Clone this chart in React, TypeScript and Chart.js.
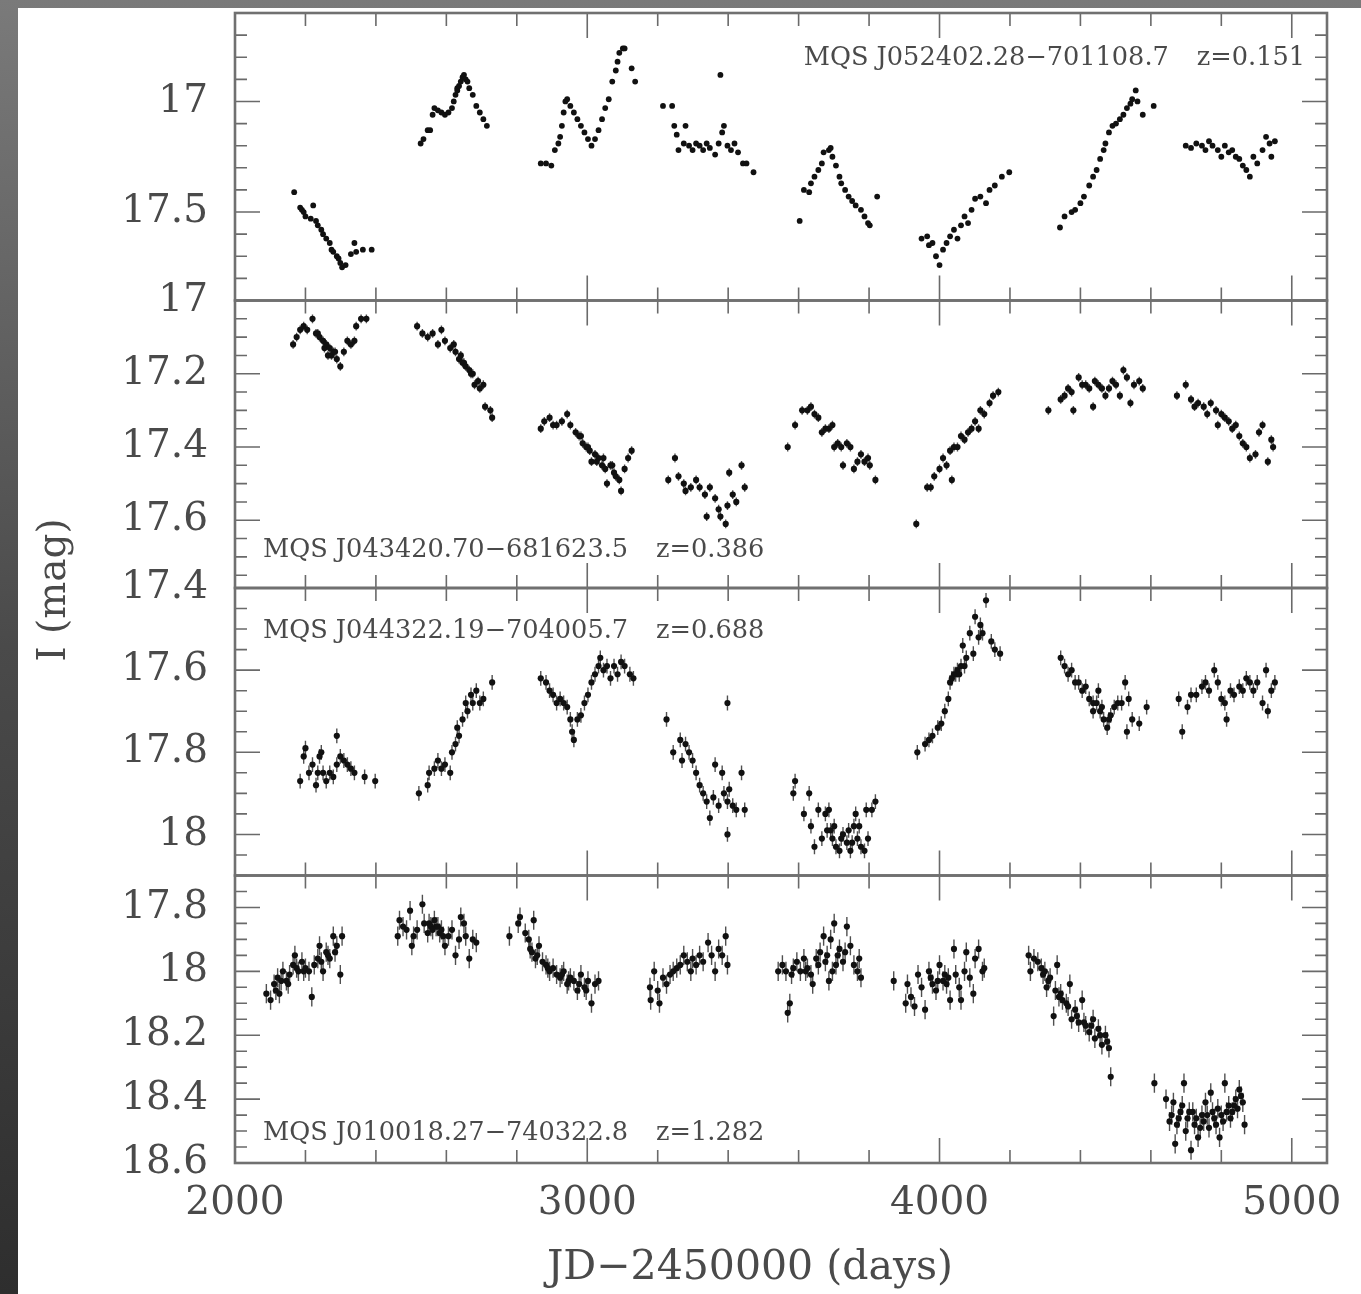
import React, { useEffect, useRef } from "react";
import { Chart, registerables } from "chart.js";

Chart.register(...registerables);

// ---------- axes / labels ----------
const X_MIN = 2000;
const X_MAX = 5100;
const X_LABEL_TICKS = [2000, 3000, 4000, 5000];
const X_MINOR_STEP = 200;
const X_MAJOR_STEP = 1000;
const X_TITLE = "JD\u22122450000 (days)";
const Y_TITLE = "I (mag)";

const PANEL_IDS = ["y1", "y2", "y3", "y4"];
const PANEL_NAMES = [
  "MQS J052402.28\u2212701108.7",
  "MQS J043420.70\u2212681623.5",
  "MQS J044322.19\u2212704005.7",
  "MQS J010018.27\u2212740322.8",
];
const PANEL_Z = ["z=0.151", "z=0.386", "z=0.688", "z=1.282"];
const PANEL_MIN = [16.6, 17.0, 17.4, 17.7];
const PANEL_MAX = [17.9, 17.785, 18.1, 18.6];
const PANEL_LABEL_TICKS = [
  [17, 17.5],
  [17, 17.2, 17.4, 17.6],
  [17.4, 17.6, 17.8, 18],
  [17.8, 18, 18.2, 18.4, 18.6],
];
const PANEL_MINOR = [0.1, 0.05, 0.05, 0.05];
const PANEL_MAJOR = [0.5, 0.2, 0.2, 0.2];
const PANEL_ERR = [0.004, 0.012, 0.018, 0.03];

// ---------- data: [JD-2450000, I mag] ----------
const P1: number[][] = [
  [2168, 17.41], [2185, 17.48], [2190, 17.49], [2195, 17.5], [2200, 17.52], [2222, 17.47], [2215, 17.53], [2230, 17.54],
  [2235, 17.56], [2245, 17.58], [2250, 17.6], [2259, 17.62], [2269, 17.64], [2274, 17.67], [2279, 17.68], [2289, 17.7],
  [2294, 17.71], [2299, 17.73], [2304, 17.75], [2314, 17.74], [2329, 17.69], [2339, 17.64], [2344, 17.68], [2363, 17.67], [2388, 17.67],
  [2527, 17.19], [2535, 17.17], [2547, 17.13], [2554, 17.13], [2561, 17.06], [2566, 17.03], [2576, 17.04], [2586, 17.05],
  [2596, 17.06], [2606, 17.05], [2616, 17.03], [2621, 17.0], [2626, 16.97], [2631, 16.95], [2631, 16.94], [2636, 16.93],
  [2641, 16.91], [2646, 16.89], [2650, 16.88], [2655, 16.9], [2660, 16.91], [2665, 16.94], [2675, 16.97], [2685, 17.02],
  [2695, 17.05], [2705, 17.08], [2715, 17.11],
  [2868, 17.28], [2883, 17.28], [2898, 17.29], [2908, 17.22], [2918, 17.19], [2923, 17.16], [2928, 17.11], [2933, 17.05],
  [2938, 17.0], [2943, 16.99], [2952, 17.02], [2962, 17.05], [2972, 17.08], [2982, 17.11], [2992, 17.14], [3002, 17.17],
  [3012, 17.2], [3022, 17.17], [3032, 17.13], [3042, 17.08], [3051, 17.03], [3061, 16.99], [3071, 16.91], [3081, 16.86],
  [3086, 16.82], [3091, 16.78], [3101, 16.76], [3106, 16.76], [3126, 16.85], [3136, 16.91],
  [3215, 17.02], [3241, 17.02], [3247, 17.11], [3279, 17.11], [3254, 17.15], [3378, 16.88], [3259, 17.22], [3274, 17.19],
  [3289, 17.2], [3299, 17.22], [3309, 17.19], [3319, 17.2], [3329, 17.22], [3339, 17.19], [3348, 17.21], [3363, 17.24],
  [3373, 17.19], [3383, 17.14], [3388, 17.11], [3398, 17.2], [3408, 17.22], [3418, 17.19], [3428, 17.23], [3442, 17.28],
  [3452, 17.28], [3472, 17.32],
  [3603, 17.54], [3615, 17.4], [3630, 17.41], [3635, 17.37], [3645, 17.34], [3656, 17.31], [3666, 17.28], [3671, 17.23],
  [3686, 17.22], [3691, 17.21], [3696, 17.25], [3706, 17.29], [3716, 17.34], [3721, 17.37], [3732, 17.4], [3742, 17.43],
  [3752, 17.45], [3762, 17.47], [3777, 17.49], [3787, 17.52], [3797, 17.55], [3802, 17.56], [3823, 17.43],
  [3949, 17.62], [3965, 17.61], [3970, 17.65], [3980, 17.64], [3990, 17.7], [4000, 17.74], [4010, 17.67], [4020, 17.64],
  [4030, 17.61], [4041, 17.58], [4051, 17.62], [4061, 17.56], [4071, 17.52], [4081, 17.55], [4091, 17.49], [4101, 17.44],
  [4116, 17.43], [4132, 17.46], [4142, 17.4], [4157, 17.38], [4177, 17.34], [4198, 17.32],
  [4342, 17.57], [4355, 17.52], [4375, 17.5], [4385, 17.49], [4400, 17.46], [4410, 17.43], [4425, 17.38], [4436, 17.34],
  [4446, 17.31], [4456, 17.26], [4466, 17.22], [4471, 17.19], [4481, 17.14], [4491, 17.11], [4501, 17.1], [4512, 17.08],
  [4522, 17.06], [4532, 17.03], [4542, 17.01], [4547, 16.99], [4557, 16.95], [4562, 17.0], [4577, 17.06], [4608, 17.02],
  [4699, 17.2], [4714, 17.21], [4729, 17.19], [4745, 17.2], [4755, 17.22], [4765, 17.18], [4775, 17.2], [4790, 17.22],
  [4800, 17.25], [4810, 17.2], [4821, 17.23], [4831, 17.22], [4841, 17.25], [4851, 17.26], [4861, 17.29], [4871, 17.31],
  [4881, 17.34], [4891, 17.25], [4902, 17.28], [4917, 17.22], [4927, 17.16], [4937, 17.19], [4942, 17.25], [4952, 17.18],
];

const P2: number[][] = [
  [2165, 17.12], [2175, 17.1], [2185, 17.08], [2195, 17.07], [2205, 17.08], [2220, 17.05], [2230, 17.09], [2235, 17.09],
  [2240, 17.1], [2250, 17.11], [2254, 17.13], [2259, 17.12], [2264, 17.15], [2269, 17.13], [2274, 17.15], [2279, 17.14],
  [2284, 17.14], [2289, 17.16], [2299, 17.18], [2309, 17.14], [2319, 17.11], [2329, 17.12], [2339, 17.11], [2344, 17.07],
  [2358, 17.05], [2373, 17.05],
  [2517, 17.07], [2532, 17.09], [2547, 17.1], [2561, 17.09], [2576, 17.12], [2586, 17.08], [2596, 17.11], [2611, 17.13],
  [2621, 17.12], [2626, 17.14], [2636, 17.16], [2641, 17.15], [2646, 17.17], [2650, 17.17], [2655, 17.18], [2665, 17.19],
  [2670, 17.2], [2675, 17.2], [2680, 17.23], [2690, 17.22], [2695, 17.24], [2705, 17.23], [2710, 17.29], [2725, 17.3], [2730, 17.32],
  [2868, 17.35], [2878, 17.33], [2893, 17.32], [2903, 17.34], [2913, 17.34], [2928, 17.33], [2943, 17.31], [2952, 17.34],
  [2967, 17.36], [2977, 17.37], [2982, 17.37], [2987, 17.39], [2997, 17.4], [3002, 17.4], [3007, 17.41], [3012, 17.44],
  [3022, 17.42], [3027, 17.44], [3032, 17.43], [3042, 17.45], [3046, 17.43], [3051, 17.46], [3056, 17.5], [3066, 17.45],
  [3071, 17.45], [3076, 17.47], [3081, 17.48], [3091, 17.49], [3096, 17.52], [3106, 17.46], [3116, 17.43], [3126, 17.41],
  [3230, 17.49], [3249, 17.43], [3259, 17.48], [3274, 17.5], [3279, 17.52], [3294, 17.51], [3309, 17.49], [3319, 17.51],
  [3334, 17.53], [3339, 17.59], [3348, 17.51], [3363, 17.54], [3373, 17.57], [3378, 17.59], [3393, 17.61], [3398, 17.56],
  [3403, 17.47], [3413, 17.53], [3423, 17.55], [3438, 17.45], [3447, 17.51],
  [3569, 17.4], [3590, 17.34], [3610, 17.3], [3625, 17.3], [3635, 17.29], [3645, 17.31], [3656, 17.32], [3666, 17.36],
  [3676, 17.35], [3686, 17.35], [3696, 17.34], [3701, 17.4], [3711, 17.39], [3721, 17.4], [3726, 17.45], [3737, 17.39],
  [3747, 17.4], [3757, 17.46], [3767, 17.44], [3777, 17.42], [3787, 17.44], [3797, 17.43], [3802, 17.45], [3818, 17.49],
  [3934, 17.61],
  [3965, 17.51], [3975, 17.51], [3985, 17.48], [4000, 17.46], [4010, 17.43], [4020, 17.45], [4030, 17.41], [4035, 17.49],
  [4041, 17.4], [4051, 17.4], [4061, 17.37], [4071, 17.38], [4081, 17.36], [4091, 17.35], [4101, 17.33], [4111, 17.35],
  [4116, 17.3], [4127, 17.31], [4142, 17.28], [4152, 17.26], [4167, 17.25],
  [4309, 17.3], [4344, 17.27], [4355, 17.26], [4365, 17.24], [4375, 17.25], [4380, 17.3], [4395, 17.21], [4405, 17.23],
  [4415, 17.23], [4425, 17.24], [4436, 17.29], [4441, 17.22], [4451, 17.23], [4461, 17.24], [4471, 17.26], [4481, 17.24],
  [4491, 17.22], [4501, 17.23], [4512, 17.26], [4522, 17.19], [4532, 17.21], [4542, 17.28], [4552, 17.23], [4567, 17.22], [4577, 17.24],
  [4674, 17.26], [4699, 17.23], [4714, 17.27], [4724, 17.29], [4734, 17.28], [4750, 17.29], [4760, 17.31], [4770, 17.28],
  [4785, 17.3], [4790, 17.34], [4800, 17.31], [4810, 17.32], [4821, 17.33], [4831, 17.35], [4841, 17.34], [4851, 17.37],
  [4861, 17.39], [4871, 17.4], [4881, 17.43], [4897, 17.42], [4907, 17.36], [4917, 17.34], [4932, 17.44], [4942, 17.38], [4947, 17.4],
];

const P3: number[][] = [
  [2185, 17.87], [2195, 17.81], [2200, 17.79], [2210, 17.85], [2220, 17.83], [2230, 17.88], [2235, 17.85], [2240, 17.81],
  [2245, 17.8], [2250, 17.85], [2259, 17.87], [2269, 17.85], [2279, 17.86], [2289, 17.76], [2289, 17.83], [2299, 17.81],
  [2309, 17.82], [2319, 17.83], [2329, 17.84], [2339, 17.85], [2368, 17.86], [2398, 17.87],
  [2522, 17.9], [2547, 17.88], [2551, 17.85], [2566, 17.84], [2576, 17.82], [2586, 17.84], [2596, 17.83], [2611, 17.85],
  [2616, 17.8], [2626, 17.78], [2631, 17.74], [2636, 17.76], [2646, 17.72], [2655, 17.68], [2660, 17.7], [2670, 17.66],
  [2675, 17.68], [2685, 17.65], [2695, 17.68], [2705, 17.67], [2730, 17.63],
  [2868, 17.62], [2883, 17.63], [2893, 17.65], [2903, 17.66], [2913, 17.68], [2923, 17.67], [2933, 17.68], [2943, 17.69],
  [2952, 17.72], [2957, 17.75], [2962, 17.77], [2972, 17.72], [2982, 17.71], [2992, 17.68], [3002, 17.66], [3012, 17.63],
  [3022, 17.61], [3032, 17.59], [3037, 17.57], [3046, 17.6], [3056, 17.59], [3066, 17.62], [3076, 17.59], [3086, 17.61],
  [3096, 17.58], [3106, 17.59], [3121, 17.61], [3131, 17.62],
  [3225, 17.72], [3244, 17.8], [3264, 17.77], [3269, 17.82], [3279, 17.78], [3289, 17.8], [3299, 17.82], [3309, 17.85],
  [3319, 17.88], [3329, 17.9], [3339, 17.92], [3348, 17.96], [3358, 17.91], [3363, 17.83], [3373, 17.93], [3383, 17.85],
  [3388, 17.9], [3398, 17.68], [3398, 17.92], [3403, 17.89], [3398, 18.0], [3413, 17.93], [3423, 17.94], [3438, 17.85], [3447, 17.94],
  [3585, 17.9], [3590, 17.87], [3615, 17.95], [3630, 17.9], [3635, 17.98], [3645, 18.03], [3656, 17.94], [3666, 18.01],
  [3676, 17.95], [3681, 17.99], [3686, 17.94], [3691, 17.99], [3696, 18.01], [3701, 17.98], [3706, 18.03], [3716, 18.04],
  [3721, 18.01], [3726, 18.0], [3737, 18.02], [3742, 17.99], [3747, 18.04], [3752, 18.02], [3757, 17.98], [3762, 17.95],
  [3767, 18.01], [3772, 17.98], [3777, 18.03], [3787, 18.04], [3792, 17.94], [3797, 18.01], [3808, 17.94], [3818, 17.92],
  [3937, 17.8], [3959, 17.78], [3970, 17.77], [3980, 17.76], [3995, 17.74], [4005, 17.73], [4015, 17.7], [4025, 17.67],
  [4030, 17.63], [4035, 17.62], [4041, 17.61], [4046, 17.61], [4051, 17.6], [4056, 17.61], [4061, 17.59], [4066, 17.54],
  [4071, 17.59], [4076, 17.57], [4086, 17.51], [4096, 17.56], [4101, 17.47], [4111, 17.52], [4116, 17.49], [4122, 17.51],
  [4132, 17.43], [4147, 17.53], [4157, 17.55], [4172, 17.56],
  [4344, 17.57], [4355, 17.59], [4365, 17.61], [4375, 17.6], [4385, 17.63], [4395, 17.63], [4405, 17.65], [4415, 17.64],
  [4425, 17.67], [4436, 17.68], [4436, 17.7], [4446, 17.68], [4451, 17.65], [4456, 17.7], [4461, 17.69], [4466, 17.72],
  [4476, 17.74], [4481, 17.72], [4486, 17.71], [4496, 17.69], [4506, 17.68], [4517, 17.68], [4527, 17.63], [4532, 17.75],
  [4537, 17.67], [4547, 17.72], [4567, 17.73], [4588, 17.69],
  [4679, 17.67], [4689, 17.75], [4704, 17.69], [4714, 17.66], [4729, 17.66], [4745, 17.64], [4755, 17.63], [4765, 17.65],
  [4780, 17.6], [4790, 17.63], [4800, 17.67], [4810, 17.68], [4815, 17.72], [4826, 17.65], [4836, 17.66], [4851, 17.64],
  [4861, 17.65], [4871, 17.62], [4881, 17.63], [4891, 17.65], [4902, 17.63], [4917, 17.68], [4927, 17.6], [4932, 17.7],
  [4942, 17.65], [4952, 17.63],
];

const P4: number[][] = [
  [2089, 18.07], [2101, 18.09], [2111, 18.04], [2116, 18.06], [2121, 18.02], [2126, 18.07], [2131, 18.03], [2136, 18.0],
  [2146, 18.03], [2151, 18.04], [2155, 18.01], [2165, 17.98], [2170, 17.95], [2175, 17.99], [2180, 18.0], [2190, 17.97],
  [2195, 18.0], [2200, 17.99], [2210, 18.0], [2218, 18.08], [2225, 17.98], [2235, 17.96], [2240, 17.92], [2245, 17.97],
  [2250, 18.0], [2259, 17.94], [2264, 17.95], [2269, 17.96], [2279, 17.89], [2284, 17.94], [2289, 17.92], [2299, 18.01], [2304, 17.89],
  [2462, 17.89], [2467, 17.84], [2477, 17.86], [2487, 17.87], [2497, 17.81], [2502, 17.92], [2507, 17.89], [2517, 17.87],
  [2532, 17.79], [2537, 17.85], [2547, 17.88], [2551, 17.85], [2556, 17.86], [2561, 17.87], [2566, 17.84], [2571, 17.86],
  [2576, 17.86], [2581, 17.88], [2586, 17.87], [2591, 17.89], [2596, 17.92], [2606, 17.89], [2616, 17.87], [2626, 17.95],
  [2636, 17.9], [2641, 17.83], [2650, 17.85], [2655, 17.89], [2665, 17.96], [2675, 17.9], [2685, 17.91],
  [2779, 17.89], [2804, 17.85], [2809, 17.83], [2824, 17.88], [2834, 17.9], [2838, 17.93], [2843, 17.94], [2848, 17.84],
  [2853, 17.96], [2858, 17.95], [2863, 17.92], [2873, 17.97], [2883, 17.98], [2888, 17.99], [2893, 18.0], [2903, 17.99],
  [2913, 18.01], [2923, 18.02], [2928, 18.01], [2933, 18.0], [2943, 18.04], [2947, 18.03], [2952, 18.02], [2962, 18.03],
  [2972, 18.06], [2977, 18.04], [2982, 18.01], [2992, 18.05], [2997, 18.06], [3002, 18.03], [3012, 18.1], [3022, 18.04], [3032, 18.03],
  [3178, 18.05], [3180, 18.09], [3190, 18.0], [3200, 18.06], [3205, 18.1], [3215, 18.02], [3225, 18.04], [3235, 18.01],
  [3244, 18.0], [3254, 17.99], [3264, 17.98], [3274, 17.95], [3284, 17.97], [3294, 18.0], [3299, 17.96], [3309, 17.98],
  [3319, 17.95], [3329, 17.97], [3343, 17.91], [3353, 17.95], [3363, 18.0], [3373, 17.93], [3383, 17.95], [3393, 17.89], [3398, 17.98],
  [3542, 18.0], [3554, 17.98], [3564, 18.0], [3569, 18.13], [3575, 18.1], [3580, 18.01], [3585, 17.99], [3595, 17.97],
  [3605, 18.0], [3615, 17.96], [3620, 18.0], [3625, 17.99], [3635, 18.01], [3640, 18.04], [3650, 17.96], [3656, 17.98],
  [3661, 17.94], [3671, 17.89], [3676, 17.97], [3681, 17.95], [3686, 18.03], [3691, 17.9], [3696, 18.0], [3701, 17.85],
  [3706, 17.98], [3711, 17.95], [3716, 17.93], [3726, 17.97], [3732, 17.94], [3737, 17.86], [3747, 17.92], [3757, 17.98],
  [3767, 18.0], [3772, 17.96], [3777, 18.02],
  [3870, 18.03], [3904, 18.1], [3909, 18.04], [3919, 18.08], [3929, 18.11], [3939, 18.01], [3949, 18.05], [3959, 18.12],
  [3970, 18.0], [3975, 18.02], [3980, 18.04], [3990, 18.06], [3995, 18.03], [4000, 17.98], [4010, 18.03], [4015, 18.01],
  [4020, 18.04], [4025, 18.02], [4030, 18.09], [4041, 17.93], [4046, 18.01], [4056, 18.05], [4061, 18.09], [4071, 18.0],
  [4076, 17.94], [4086, 18.02], [4096, 18.07], [4101, 17.96], [4111, 17.93], [4122, 18.0], [4127, 17.99],
  [4253, 17.95], [4258, 18.0], [4268, 17.96], [4279, 17.97], [4289, 17.99], [4294, 18.01], [4299, 18.0], [4304, 18.05],
  [4309, 18.03], [4314, 18.02], [4324, 18.14], [4329, 18.06], [4334, 17.98], [4339, 18.08], [4344, 18.07], [4349, 18.09],
  [4360, 18.1], [4365, 18.11], [4370, 18.04], [4375, 18.15], [4385, 18.12], [4390, 18.14], [4395, 18.16], [4405, 18.09],
  [4410, 18.16], [4415, 18.17], [4425, 18.19], [4431, 18.17], [4436, 18.15], [4441, 18.21], [4451, 18.18], [4456, 18.2],
  [4461, 18.23], [4471, 18.2], [4476, 18.22], [4481, 18.24], [4486, 18.33],
  [4610, 18.35], [4643, 18.4], [4653, 18.47], [4659, 18.45], [4664, 18.41], [4669, 18.54], [4674, 18.48], [4679, 18.46],
  [4684, 18.44], [4689, 18.42], [4694, 18.35], [4699, 18.5], [4704, 18.46], [4709, 18.44], [4714, 18.56], [4719, 18.44],
  [4724, 18.48], [4729, 18.46], [4734, 18.52], [4740, 18.49], [4745, 18.45], [4750, 18.47], [4755, 18.41], [4760, 18.45],
  [4765, 18.49], [4770, 18.38], [4775, 18.44], [4780, 18.46], [4785, 18.48], [4790, 18.43], [4795, 18.52], [4800, 18.45],
  [4805, 18.47], [4810, 18.35], [4815, 18.44], [4821, 18.42], [4826, 18.46], [4831, 18.44], [4836, 18.42], [4841, 18.4],
  [4846, 18.43], [4851, 18.37], [4856, 18.39], [4861, 18.41], [4866, 18.48],
];

const PANEL_DATA = [P1, P2, P3, P4];

// ---------- styling ----------
const FONT = "'DejaVu Serif', 'Liberation Serif', serif";
const TEXT_COLOR = "#4a4a4a";
const FRAME_COLOR = "#707070";
const TICK_COLOR = "#6a6a6a";
const POINT_COLOR = "#111111";
const ERR_COLOR = "#505050";
const CANVAS_W = 1343;
const CANVAS_H = 1286;
const PLOT_LEFT = 217;
const PLOT_RIGHT_PAD = 34;
const PLOT_TOP_PAD = 5;
const X_AXIS_H = 131;

const fmtMag = (v: number) => {
  const n = Math.round(v * 10) / 10;
  return Number.isInteger(n) ? String(n) : n.toFixed(1);
};

const zeroPad = (s: any) => {
  s.paddingTop = 0;
  s.paddingBottom = 0;
  s.paddingLeft = 0;
  s.paddingRight = 0;
};

const decorPlugin = {
  id: "decor",
  beforeDatasetsDraw(chart: any) {
    const ctx = chart.ctx;
    chart.data.datasets.forEach((ds: any, i: number) => {
      const meta = chart.getDatasetMeta(i);
      const ys = chart.scales[ds.yAxisID];
      const err = PANEL_ERR[i];
      ctx.save();
      ctx.beginPath();
      ctx.rect(chart.chartArea.left, ys.top, chart.chartArea.right - chart.chartArea.left, ys.bottom - ys.top);
      ctx.clip();
      ctx.strokeStyle = ERR_COLOR;
      ctx.lineWidth = 1.4;
      ctx.beginPath();
      ds.data.forEach((p: any, j: number) => {
        const el = meta.data[j];
        if (!el) return;
        const ya = ys.getPixelForValue(p.y - err);
        const yb = ys.getPixelForValue(p.y + err);
        ctx.moveTo(el.x, ya);
        ctx.lineTo(el.x, yb);
      });
      ctx.stroke();
      ctx.restore();
    });
  },
  afterDatasetsDraw(chart: any) {
    const ctx = chart.ctx;
    const ca = chart.chartArea;
    const xs = chart.scales.x;
    ctx.save();
    // tick marks
    ctx.strokeStyle = TICK_COLOR;
    ctx.lineWidth = 1.6;
    ctx.beginPath();
    PANEL_IDS.forEach((id, i) => {
      const ys = chart.scales[id];
      for (let v = X_MIN; v <= X_MAX + 1e-6; v += X_MINOR_STEP) {
        const px = xs.getPixelForValue(v);
        const len = v % X_MAJOR_STEP === 0 ? 25 : 13;
        ctx.moveTo(px, ys.top);
        ctx.lineTo(px, ys.top + len);
        ctx.moveTo(px, ys.bottom);
        ctx.lineTo(px, ys.bottom - len);
      }
      const step = PANEL_MINOR[i];
      const maj = PANEL_MAJOR[i];
      const k0 = Math.ceil(PANEL_MIN[i] / step - 1e-6);
      const k1 = Math.floor(PANEL_MAX[i] / step + 1e-6);
      for (let k = k0; k <= k1; k++) {
        const v = k * step;
        const r = v / maj;
        const isMajor = Math.abs(r - Math.round(r)) < 1e-6;
        const len = isMajor ? 25 : 12;
        const py = ys.getPixelForValue(v);
        ctx.moveTo(ca.left, py);
        ctx.lineTo(ca.left + len, py);
        ctx.moveTo(ca.right, py);
        ctx.lineTo(ca.right - len, py);
      }
    });
    ctx.stroke();
    // frames
    ctx.strokeStyle = FRAME_COLOR;
    ctx.lineWidth = 2.6;
    PANEL_IDS.forEach((id) => {
      const ys = chart.scales[id];
      ctx.strokeRect(ca.left, ys.top, ca.right - ca.left, ys.bottom - ys.top);
    });
    // annotations
    ctx.fillStyle = TEXT_COLOR;
    ctx.font = `25.6px ${FONT}`;
    ctx.textBaseline = "middle";
    const gap = 28;
    PANEL_IDS.forEach((id, i) => {
      const ys = chart.scales[id];
      const name = PANEL_NAMES[i];
      const z = PANEL_Z[i];
      const wName = ctx.measureText(name).width;
      const wZ = ctx.measureText(z).width;
      let x0: number;
      let yc: number;
      if (i === 0) {
        x0 = ca.right - 22 - wZ - gap - wName;
        yc = ys.top + 45;
      } else if (i === 1) {
        x0 = ca.left + 28;
        yc = ys.bottom - 38;
      } else if (i === 2) {
        x0 = ca.left + 28;
        yc = ys.top + 43;
      } else {
        x0 = ca.left + 28;
        yc = ys.bottom - 30;
      }
      ctx.textAlign = "left";
      ctx.fillText(name, x0, yc);
      ctx.fillText(z, x0 + wName + gap, yc);
    });
    // x title
    ctx.font = `41px ${FONT}`;
    ctx.textAlign = "center";
    ctx.textBaseline = "middle";
    ctx.fillText(X_TITLE, (ca.left + ca.right) / 2 - 31, ca.bottom + 105);
    // y title
    ctx.font = `39px ${FONT}`;
    ctx.translate(ca.left - 180, (ca.top + ca.bottom) / 2 + 2);
    ctx.rotate(-Math.PI / 2);
    ctx.fillText(Y_TITLE, 0, 0);
    ctx.restore();
  },
};

export default function App() {
  const ref = useRef<HTMLCanvasElement | null>(null);

  useEffect(() => {
    if (!ref.current) return;
    const scales: any = {
      x: {
        type: "linear",
        position: "bottom",
        min: X_MIN,
        max: X_MAX,
        afterBuildTicks: (s: any) => {
          s.ticks = X_LABEL_TICKS.map((v) => ({ value: v }));
        },
        ticks: {
          font: { family: FONT, size: 39 },
          color: TEXT_COLOR,
          padding: 17,
          maxRotation: 0,
          autoSkip: false,
          callback: (v: any) => String(Math.round(Number(v))),
        },
        grid: { display: false, drawTicks: false },
        border: { display: false },
        title: { display: false },
        afterFit: (s: any) => {
          s.height = X_AXIS_H;
          zeroPad(s);
        },
      },
    };
    PANEL_IDS.forEach((id, i) => {
      scales[id] = {
        type: "linear",
        position: "left",
        stack: "panels",
        stackWeight: 1,
        weight: 4 - i,
        reverse: true,
        min: PANEL_MIN[i],
        max: PANEL_MAX[i],
        afterBuildTicks: (s: any) => {
          s.ticks = PANEL_LABEL_TICKS[i].map((v) => ({ value: v }));
        },
        ticks: {
          font: { family: FONT, size: 39 },
          color: TEXT_COLOR,
          padding: 27,
          autoSkip: false,
          callback: (v: any) => fmtMag(Number(v)),
        },
        grid: { display: false, drawTicks: false },
        border: { display: false },
        afterFit: (s: any) => {
          s.width = PLOT_LEFT;
          zeroPad(s);
        },
      };
    });

    const chart = new Chart(ref.current, {
      type: "scatter",
      data: {
        datasets: PANEL_DATA.map((arr, i) => ({
          label: PANEL_NAMES[i],
          yAxisID: PANEL_IDS[i],
          xAxisID: "x",
          data: arr.map(([x, y]) => ({ x, y })),
          pointRadius: i === 0 ? 2.9 : 3.1,
          pointBackgroundColor: POINT_COLOR,
          pointBorderWidth: 0,
          backgroundColor: POINT_COLOR,
          borderColor: POINT_COLOR,
        })),
      },
      options: {
        responsive: false,
        animation: false,
        devicePixelRatio: 1,
        events: [],
        layout: { padding: { left: 0, right: PLOT_RIGHT_PAD, top: PLOT_TOP_PAD, bottom: 0 } },
        plugins: { legend: { display: false }, tooltip: { enabled: false }, title: { display: false } },
        scales,
      },
      plugins: [decorPlugin],
    });
    return () => chart.destroy();
  }, []);

  return (
    <div
      style={{
        position: "absolute",
        left: 0,
        top: 0,
        width: 1361,
        height: 1294,
        background: "linear-gradient(180deg, #7a7a7a 0%, #4a4a4a 50%, #2e2e2e 100%)",
      }}
    >
      <div style={{ position: "absolute", left: 18, top: 8, width: CANVAS_W, height: CANVAS_H, background: "#ffffff" }}>
        <canvas ref={ref} width={CANVAS_W} height={CANVAS_H} style={{ display: "block", width: CANVAS_W, height: CANVAS_H }} />
      </div>
    </div>
  );
}
